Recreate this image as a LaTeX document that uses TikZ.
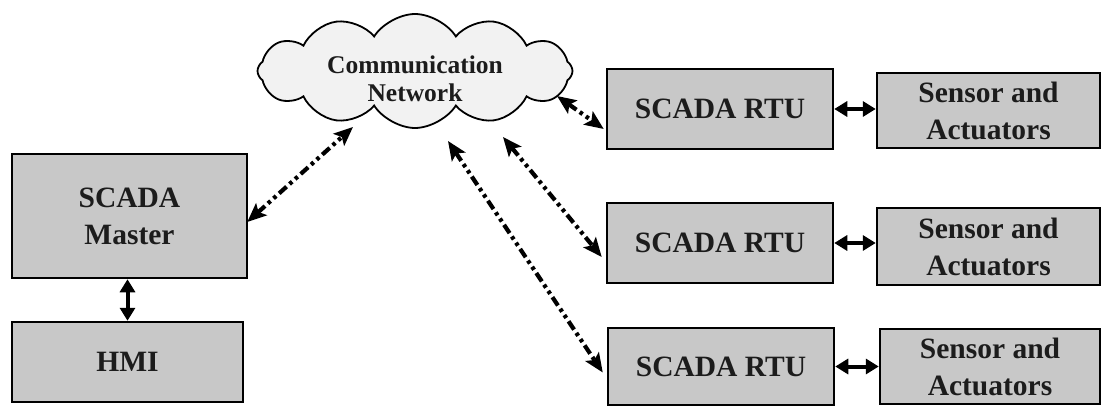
\documentclass[tikz,border=0pt]{standalone}
\usepackage{fontspec}
\setmainfont{Liberation Serif}
\usetikzlibrary{shapes.symbols,arrows.meta,calc}
\definecolor{boxgray}{RGB}{200,200,200}
\definecolor{cloudgray}{RGB}{242,242,242}
\definecolor{txt}{RGB}{28,28,28}
\tikzset{
  blk/.style={draw=black,line width=2.5pt,fill=boxgray,align=center,inner sep=0pt,
    font=\fontsize{29.5}{37}\selectfont\bfseries,text=txt},
  netlink/.style={line width=4.2pt,dash pattern=on 10pt off 4pt on 3.5pt off 4pt on 3.5pt off 4pt,
    {Stealth[length=19pt,width=16pt,inset=4pt]}-{Stealth[length=19pt,width=16pt,inset=4pt]}},
  solidlink/.style={line width=4pt,{Triangle[length=13pt,width=15pt]}-{Triangle[length=13pt,width=15pt]}}
}
\begin{document}
\begin{tikzpicture}[x=1pt,y=-1pt]
\useasboundingbox (0,0) rectangle (1118,406);
\node[cloud,cloud puffs=12,cloud puff arc=115,draw=black,line width=1.8pt,fill=cloudgray,
  minimum width=315pt,minimum height=114pt,aspect=2.7] (net) at (415,71) {};
\node[align=center,inner sep=0pt,font=\fontsize{25.5}{28}\selectfont\bfseries,text=txt]
  (netlbl) at ($(net.center)+(0,8)$) {Communication\\Network};
\node[blk,minimum width=235pt,minimum height=124pt] (master) at (129.5,216) {SCADA\\Master};
\node[blk,minimum width=231pt,minimum height=80pt] (hmi) at (127.5,362) {HMI};
\node[blk,minimum width=226pt,minimum height=80pt] (rtu1) at (720,109) {SCADA RTU};
\node[blk,minimum width=226pt,minimum height=80pt] (rtu2) at (720,243) {SCADA RTU};
\node[blk,minimum width=226pt,minimum height=77pt] (rtu3) at (721,366.5) {SCADA RTU};
\node[blk,minimum width=223pt,minimum height=75pt] (s1) at (988.5,110.5) {Sensor and\\Actuators};
\node[blk,minimum width=223pt,minimum height=77pt] (s2) at (988.5,246.5) {Sensor and\\Actuators};
\node[blk,minimum width=220pt,minimum height=75pt] (s3) at (990,366.5) {Sensor and\\Actuators};
\coordinate (n0) at (353,127);
\coordinate (n1) at (557,96);
\coordinate (n2) at (503,137);
\coordinate (n3) at (448,141);
\coordinate (m0) at ($(master.east)+(-1,6)$);
\coordinate (r1) at ($(rtu1.west)+(-2,20)$);
\coordinate (r2) at ($(rtu2.west)+(-4,14)$);
\coordinate (r3) at ($(rtu3.west)+(-4,6)$);
\draw[netlink] (m0) -- (n0);
\draw[netlink] (n1) -- (r1);
\draw[netlink] (n2) -- (r2);
\draw[netlink] (n3) -- (r3);
\draw[solidlink] (hmi.north |- master.south) -- (hmi.north);
\draw[solidlink] (rtu1.east) -- (rtu1.east -| s1.west);
\draw[solidlink] (rtu2.east) -- (rtu2.east -| s2.west);
\draw[solidlink] (rtu3.east) -- (rtu3.east -| s3.west);
\end{tikzpicture}
\end{document}
